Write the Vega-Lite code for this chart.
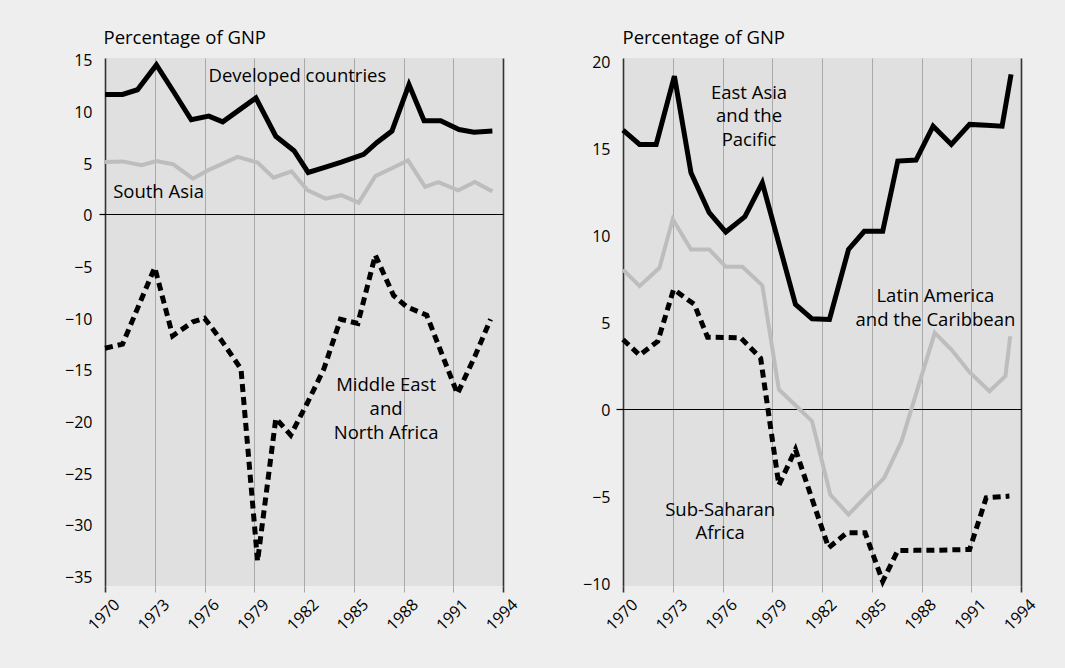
{
  "$schema": "https://vega.github.io/schema/vega-lite/v6.json",
  "background": "#eeeeee",
  "autosize": {"type": "pad"},
  "padding": {"left": 64, "top": 28, "right": 40, "bottom": 45},
  "config": {
    "font": "Open Sans",
    "view": {"fill": "#e0e0e0", "stroke": null},
    "axis": {"labelFont": "Open Sans", "labelFontSize": 16, "labelColor": "#000000", "titleFont": "Open Sans", "titleFontSize": 18.5, "titleFontWeight": "normal", "titleColor": "#000000"},
    "text": {"font": "Open Sans", "fontSize": 18.5, "color": "#000000"}
  },
  "spacing": 120,
  "bounds": "flush",
  "hconcat": [
    {
      "width": 398,
      "height": 528,
      "data": {"values": [
        {"s": "Developed countries", "x": 1970.0, "v": 11.55},
        {"s": "Developed countries", "x": 1971.06, "v": 11.55},
        {"s": "Developed countries", "x": 1971.96, "v": 12.0},
        {"s": "Developed countries", "x": 1973.1, "v": 14.4},
        {"s": "Developed countries", "x": 1974.1, "v": 11.9},
        {"s": "Developed countries", "x": 1975.2, "v": 9.1},
        {"s": "Developed countries", "x": 1976.26, "v": 9.45},
        {"s": "Developed countries", "x": 1977.1, "v": 8.9},
        {"s": "Developed countries", "x": 1978.1, "v": 10.05},
        {"s": "Developed countries", "x": 1979.1, "v": 11.2},
        {"s": "Developed countries", "x": 1980.3, "v": 7.5},
        {"s": "Developed countries", "x": 1981.4, "v": 6.1},
        {"s": "Developed countries", "x": 1982.25, "v": 4.0},
        {"s": "Developed countries", "x": 1983.25, "v": 4.5},
        {"s": "Developed countries", "x": 1984.25, "v": 5.0},
        {"s": "Developed countries", "x": 1985.6, "v": 5.75},
        {"s": "Developed countries", "x": 1986.4, "v": 6.9},
        {"s": "Developed countries", "x": 1987.3, "v": 8.0},
        {"s": "Developed countries", "x": 1988.33, "v": 12.5},
        {"s": "Developed countries", "x": 1989.24, "v": 9.0},
        {"s": "Developed countries", "x": 1990.24, "v": 9.0},
        {"s": "Developed countries", "x": 1991.35, "v": 8.15},
        {"s": "Developed countries", "x": 1992.25, "v": 7.9},
        {"s": "Developed countries", "x": 1993.36, "v": 8.0},
        {"s": "South Asia", "x": 1970.0, "v": 5.0},
        {"s": "South Asia", "x": 1971.06, "v": 5.07},
        {"s": "South Asia", "x": 1972.2, "v": 4.7},
        {"s": "South Asia", "x": 1973.1, "v": 5.1},
        {"s": "South Asia", "x": 1974.1, "v": 4.8},
        {"s": "South Asia", "x": 1975.3, "v": 3.4},
        {"s": "South Asia", "x": 1976.2, "v": 4.2},
        {"s": "South Asia", "x": 1977.1, "v": 4.85},
        {"s": "South Asia", "x": 1978.0, "v": 5.5},
        {"s": "South Asia", "x": 1979.2, "v": 4.95},
        {"s": "South Asia", "x": 1980.16, "v": 3.5},
        {"s": "South Asia", "x": 1981.25, "v": 4.1},
        {"s": "South Asia", "x": 1982.2, "v": 2.3},
        {"s": "South Asia", "x": 1983.3, "v": 1.47},
        {"s": "South Asia", "x": 1984.25, "v": 1.8},
        {"s": "South Asia", "x": 1985.3, "v": 1.08},
        {"s": "South Asia", "x": 1986.3, "v": 3.65},
        {"s": "South Asia", "x": 1987.3, "v": 4.4},
        {"s": "South Asia", "x": 1988.27, "v": 5.17},
        {"s": "South Asia", "x": 1989.3, "v": 2.6},
        {"s": "South Asia", "x": 1990.1, "v": 3.07},
        {"s": "South Asia", "x": 1991.3, "v": 2.27},
        {"s": "South Asia", "x": 1992.3, "v": 3.07},
        {"s": "South Asia", "x": 1993.36, "v": 2.17},
        {"s": "Middle East and North Africa", "x": 1970.0, "v": -13.0},
        {"s": "Middle East and North Africa", "x": 1971.06, "v": -12.6},
        {"s": "Middle East and North Africa", "x": 1972.0, "v": -9.0},
        {"s": "Middle East and North Africa", "x": 1973.0, "v": -5.2},
        {"s": "Middle East and North Africa", "x": 1974.08, "v": -11.8},
        {"s": "Middle East and North Africa", "x": 1975.3, "v": -10.45},
        {"s": "Middle East and North Africa", "x": 1976.0, "v": -10.1},
        {"s": "Middle East and North Africa", "x": 1977.0, "v": -12.2},
        {"s": "Middle East and North Africa", "x": 1978.2, "v": -15.0},
        {"s": "Middle East and North Africa", "x": 1979.2, "v": -33.6},
        {"s": "Middle East and North Africa", "x": 1980.3, "v": -19.8},
        {"s": "Middle East and North Africa", "x": 1981.2, "v": -21.4},
        {"s": "Middle East and North Africa", "x": 1982.2, "v": -18.3},
        {"s": "Middle East and North Africa", "x": 1983.2, "v": -15.0},
        {"s": "Middle East and North Africa", "x": 1984.2, "v": -10.2},
        {"s": "Middle East and North Africa", "x": 1985.25, "v": -10.6},
        {"s": "Middle East and North Africa", "x": 1986.3, "v": -4.0},
        {"s": "Middle East and North Africa", "x": 1987.4, "v": -7.9},
        {"s": "Middle East and North Africa", "x": 1988.2, "v": -9.0},
        {"s": "Middle East and North Africa", "x": 1989.4, "v": -9.8},
        {"s": "Middle East and North Africa", "x": 1990.3, "v": -13.5},
        {"s": "Middle East and North Africa", "x": 1991.25, "v": -17.4},
        {"s": "Middle East and North Africa", "x": 1992.3, "v": -13.8},
        {"s": "Middle East and North Africa", "x": 1993.25, "v": -10.2}
      ]},
      "encoding": {
        "x": {"field": "x", "type": "quantitative",
          "scale": {"domain": [1970, 1994], "nice": false, "zero": false},
          "axis": {"values": [1970, 1973, 1976, 1979, 1982, 1985, 1988, 1991, 1994], "format": "d", "title": null,
            "labelAngle": -45, "labelAlign": "right", "labelBaseline": "top", "labelPadding": 4, "labelOffset": 6,
            "domain": false, "tickSize": 6, "grid": true,
            "tickColor": {"condition": {"test": "datum.value == 1970 || datum.value == 1994", "value": "#333333"}, "value": "#a9a9a9"},
            "gridColor": {"condition": {"test": "datum.value == 1970 || datum.value == 1994", "value": "#333333"}, "value": "#a9a9a9"},
            "tickWidth": {"condition": {"test": "datum.value == 1970 || datum.value == 1994", "value": 1.6}, "value": 1},
            "gridWidth": {"condition": {"test": "datum.value == 1970 || datum.value == 1994", "value": 1.6}, "value": 1},
            "gridOpacity": 1}},
        "y": {"field": "v", "type": "quantitative",
          "scale": {"domain": [-36, 15.07], "nice": false, "zero": false},
          "axis": {"values": [-35, -30, -25, -20, -15, -10, -5, 0, 5, 10, 15], "title": "Percentage of GNP",
            "titleAngle": 0, "titleAlign": "left", "titleBaseline": "alphabetic", "titleX": -2, "titleY": -14.5,
            "domain": false, "tickSize": 6, "labelPadding": 7, "labelOffset": 2, "grid": true, "gridOpacity": 1,
            "gridColor": {"condition": {"test": "datum.value == 0", "value": "#000000"}, "value": "transparent"},
            "tickColor": {"condition": {"test": "datum.value == 0", "value": "#000000"}, "value": "transparent"},
            "gridWidth": 1.2, "tickWidth": 1.2}}
      },
      "layer": [
        {"transform": [{"filter": "datum.s == 'South Asia'"}],
         "mark": {"type": "line", "stroke": "#bdbdbd", "strokeWidth": 4}},
        {"transform": [{"filter": "datum.s == 'Developed countries'"}],
         "mark": {"type": "line", "stroke": "#000000", "strokeWidth": 5}},
        {"transform": [{"filter": "datum.s == 'Middle East and North Africa'"}],
         "mark": {"type": "line", "stroke": "#000000", "strokeWidth": 5, "strokeDash": [8, 5]}},
        {"data": {"values": [
            {"x": 1981.6, "v": 13.3, "label": "Developed countries"},
            {"x": 1973.23, "v": 2.1, "label": "South Asia"},
            {"x": 1986.95, "v": -16.57, "label": "Middle East\nand\nNorth Africa"}
          ]},
         "mark": {"type": "text", "lineBreak": "\n", "lineHeight": 23.7, "align": "center", "baseline": "middle", "fontSize": 18.5},
         "encoding": {"text": {"field": "label"}}}
      ]
    },
    {
      "width": 398,
      "height": 528,
      "data": {"values": [
        {"s": "East Asia and the Pacific", "x": 1970.0, "v": 16.02},
        {"s": "East Asia and the Pacific", "x": 1971.0, "v": 15.2},
        {"s": "East Asia and the Pacific", "x": 1972.0, "v": 15.2},
        {"s": "East Asia and the Pacific", "x": 1973.1, "v": 19.13},
        {"s": "East Asia and the Pacific", "x": 1974.1, "v": 13.57},
        {"s": "East Asia and the Pacific", "x": 1975.2, "v": 11.27},
        {"s": "East Asia and the Pacific", "x": 1976.2, "v": 10.16},
        {"s": "East Asia and the Pacific", "x": 1977.35, "v": 11.04},
        {"s": "East Asia and the Pacific", "x": 1978.4, "v": 12.99},
        {"s": "East Asia and the Pacific", "x": 1979.4, "v": 9.5},
        {"s": "East Asia and the Pacific", "x": 1980.4, "v": 6.0},
        {"s": "East Asia and the Pacific", "x": 1981.4, "v": 5.17},
        {"s": "East Asia and the Pacific", "x": 1982.45, "v": 5.13},
        {"s": "East Asia and the Pacific", "x": 1983.6, "v": 9.16},
        {"s": "East Asia and the Pacific", "x": 1984.55, "v": 10.2},
        {"s": "East Asia and the Pacific", "x": 1985.66, "v": 10.2},
        {"s": "East Asia and the Pacific", "x": 1986.57, "v": 14.24},
        {"s": "East Asia and the Pacific", "x": 1987.67, "v": 14.3},
        {"s": "East Asia and the Pacific", "x": 1988.7, "v": 16.25},
        {"s": "East Asia and the Pacific", "x": 1989.8, "v": 15.2},
        {"s": "East Asia and the Pacific", "x": 1990.9, "v": 16.35},
        {"s": "East Asia and the Pacific", "x": 1991.9, "v": 16.3},
        {"s": "East Asia and the Pacific", "x": 1992.86, "v": 16.25},
        {"s": "East Asia and the Pacific", "x": 1993.4, "v": 19.23},
        {"s": "Latin America and the Caribbean", "x": 1970.0, "v": 8.0},
        {"s": "Latin America and the Caribbean", "x": 1971.0, "v": 7.05},
        {"s": "Latin America and the Caribbean", "x": 1972.2, "v": 8.1},
        {"s": "Latin America and the Caribbean", "x": 1973.0, "v": 10.9},
        {"s": "Latin America and the Caribbean", "x": 1974.1, "v": 9.16},
        {"s": "Latin America and the Caribbean", "x": 1975.2, "v": 9.16},
        {"s": "Latin America and the Caribbean", "x": 1976.2, "v": 8.16},
        {"s": "Latin America and the Caribbean", "x": 1977.2, "v": 8.16},
        {"s": "Latin America and the Caribbean", "x": 1978.4, "v": 7.09},
        {"s": "Latin America and the Caribbean", "x": 1979.4, "v": 1.1},
        {"s": "Latin America and the Caribbean", "x": 1980.4, "v": 0.2},
        {"s": "Latin America and the Caribbean", "x": 1981.4, "v": -0.72},
        {"s": "Latin America and the Caribbean", "x": 1982.5, "v": -4.94},
        {"s": "Latin America and the Caribbean", "x": 1983.6, "v": -6.09},
        {"s": "Latin America and the Caribbean", "x": 1984.7, "v": -5.0},
        {"s": "Latin America and the Caribbean", "x": 1985.75, "v": -3.98},
        {"s": "Latin America and the Caribbean", "x": 1986.8, "v": -1.87},
        {"s": "Latin America and the Caribbean", "x": 1987.8, "v": 1.25},
        {"s": "Latin America and the Caribbean", "x": 1988.8, "v": 4.36},
        {"s": "Latin America and the Caribbean", "x": 1989.8, "v": 3.4},
        {"s": "Latin America and the Caribbean", "x": 1990.9, "v": 2.1},
        {"s": "Latin America and the Caribbean", "x": 1992.1, "v": 1.0},
        {"s": "Latin America and the Caribbean", "x": 1993.06, "v": 1.87},
        {"s": "Latin America and the Caribbean", "x": 1993.35, "v": 4.17},
        {"s": "Sub-Saharan Africa", "x": 1970.0, "v": 3.98},
        {"s": "Sub-Saharan Africa", "x": 1971.0, "v": 3.08},
        {"s": "Sub-Saharan Africa", "x": 1972.1, "v": 3.88},
        {"s": "Sub-Saharan Africa", "x": 1973.05, "v": 6.86},
        {"s": "Sub-Saharan Africa", "x": 1974.3, "v": 6.0},
        {"s": "Sub-Saharan Africa", "x": 1975.1, "v": 4.11},
        {"s": "Sub-Saharan Africa", "x": 1976.1, "v": 4.1},
        {"s": "Sub-Saharan Africa", "x": 1977.1, "v": 4.07},
        {"s": "Sub-Saharan Africa", "x": 1978.3, "v": 2.9},
        {"s": "Sub-Saharan Africa", "x": 1979.4, "v": -4.4},
        {"s": "Sub-Saharan Africa", "x": 1980.4, "v": -2.35},
        {"s": "Sub-Saharan Africa", "x": 1981.4, "v": -5.2},
        {"s": "Sub-Saharan Africa", "x": 1982.4, "v": -8.0},
        {"s": "Sub-Saharan Africa", "x": 1983.5, "v": -7.14},
        {"s": "Sub-Saharan Africa", "x": 1984.6, "v": -7.14},
        {"s": "Sub-Saharan Africa", "x": 1985.66, "v": -9.93},
        {"s": "Sub-Saharan Africa", "x": 1986.57, "v": -8.16},
        {"s": "Sub-Saharan Africa", "x": 1987.6, "v": -8.15},
        {"s": "Sub-Saharan Africa", "x": 1988.7, "v": -8.15},
        {"s": "Sub-Saharan Africa", "x": 1989.8, "v": -8.12},
        {"s": "Sub-Saharan Africa", "x": 1990.9, "v": -8.1},
        {"s": "Sub-Saharan Africa", "x": 1991.9, "v": -5.13},
        {"s": "Sub-Saharan Africa", "x": 1993.3, "v": -5.03}
      ]},
      "encoding": {
        "x": {"field": "x", "type": "quantitative",
          "scale": {"domain": [1970, 1994], "nice": false, "zero": false},
          "axis": {"values": [1970, 1973, 1976, 1979, 1982, 1985, 1988, 1991, 1994], "format": "d", "title": null,
            "labelAngle": -45, "labelAlign": "right", "labelBaseline": "top", "labelPadding": 4, "labelOffset": 6,
            "domain": false, "tickSize": 6, "grid": true,
            "tickColor": {"condition": {"test": "datum.value == 1970 || datum.value == 1994", "value": "#333333"}, "value": "#a9a9a9"},
            "gridColor": {"condition": {"test": "datum.value == 1970 || datum.value == 1994", "value": "#333333"}, "value": "#a9a9a9"},
            "tickWidth": {"condition": {"test": "datum.value == 1970 || datum.value == 1994", "value": 1.6}, "value": 1},
            "gridWidth": {"condition": {"test": "datum.value == 1970 || datum.value == 1994", "value": 1.6}, "value": 1},
            "gridOpacity": 1}},
        "y": {"field": "v", "type": "quantitative",
          "scale": {"domain": [-10.2, 20.17], "nice": false, "zero": false},
          "axis": {"values": [-10, -5, 0, 5, 10, 15, 20], "title": "Percentage of GNP",
            "titleAngle": 0, "titleAlign": "left", "titleBaseline": "alphabetic", "titleX": -1, "titleY": -14.5,
            "domain": false, "tickSize": 7, "labelPadding": 6, "labelOffset": 2, "grid": true, "gridOpacity": 1,
            "gridColor": {"condition": {"test": "datum.value == 0", "value": "#000000"}, "value": "transparent"},
            "tickColor": {"condition": {"test": "datum.value == 0", "value": "#000000"}, "value": "transparent"},
            "gridWidth": 1.2, "tickWidth": 1.2}}
      },
      "layer": [
        {"transform": [{"filter": "datum.s == 'Latin America and the Caribbean'"}],
         "mark": {"type": "line", "stroke": "#bdbdbd", "strokeWidth": 4}},
        {"transform": [{"filter": "datum.s == 'East Asia and the Pacific'"}],
         "mark": {"type": "line", "stroke": "#000000", "strokeWidth": 5}},
        {"transform": [{"filter": "datum.s == 'Sub-Saharan Africa'"}],
         "mark": {"type": "line", "stroke": "#000000", "strokeWidth": 5, "strokeDash": [8, 5]}},
        {"data": {"values": [
            {"x": 1977.6, "v": 18.17, "label": "East Asia\nand the\nPacific"},
            {"x": 1988.84, "v": 6.47, "label": "Latin America\nand the Caribbean"},
            {"x": 1975.86, "v": -5.8, "label": "Sub-Saharan\nAfrica"}
          ]},
         "mark": {"type": "text", "lineBreak": "\n", "lineHeight": 23.7, "align": "center", "baseline": "middle", "fontSize": 18.5},
         "encoding": {"text": {"field": "label"}}}
      ]
    }
  ]
}
